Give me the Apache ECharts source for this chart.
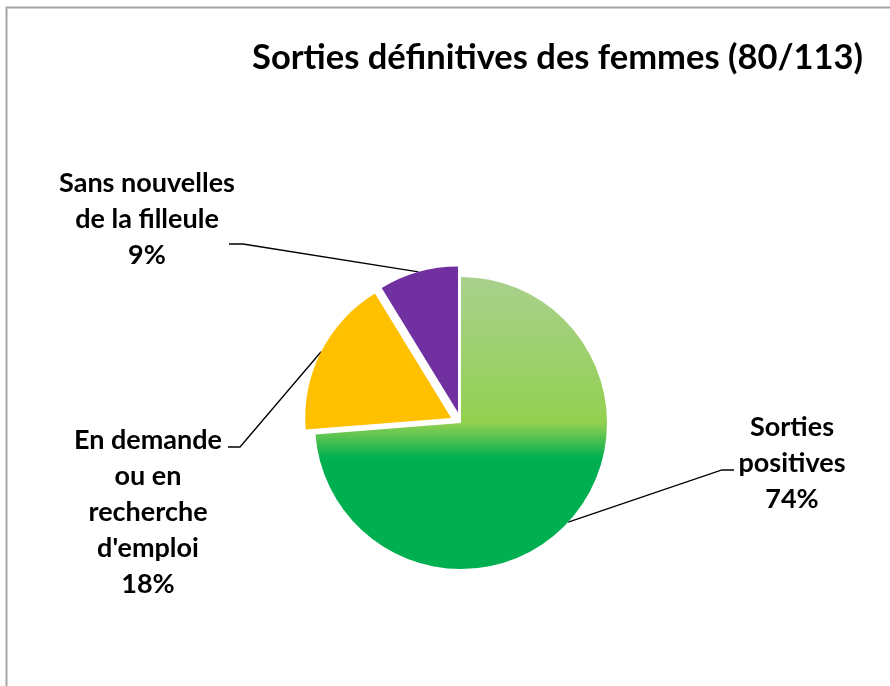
<!DOCTYPE html>
<html>
<head>
<meta charset="utf-8">
<script src="https://cdn.jsdelivr.net/npm/echarts@6/dist/echarts.min.js"></script>
<style>
  html, body { margin: 0; padding: 0; background: #fff; }
  #main { width: 890px; height: 686px; }
</style>
</head>
<body>
<div id="main"></div>
<script>
var categories = ['Sorties\npositives', 'En demande\nou en\nrecherche\nd\'emploi', 'Sans nouvelles\nde la filleule'];
var counts = [59, 14, 7];
var percentLabels = ['74%', '18%', '9%'];
var exploded = [false, true, true];

// label block centre + elbow/end of leader line (layout only)
var labelPos = [
    { x: 792, y: 463, elbow: [722, 470], end: [734, 470] },
    { x: 148, y: 512, elbow: [240, 447], end: [228, 447] },
    { x: 147, y: 219, elbow: [243, 244], end: [229, 244] }
];
var pieCenter = [461, 423];
var pieRadius = 146;
var explodeDist = 11;

var greenFill = new echarts.graphic.LinearGradient(0, 0, 0, 1, [
    { offset: 0, color: '#a9d18e' },
    { offset: 0.5, color: '#92d050' },
    { offset: 0.62, color: '#00b050' },
    { offset: 1, color: '#00b050' }
]);
var colors = [greenFill, '#ffc000', '#7030a0'];

// one pie series per slice, so an exploded slice can have its own centre
var total = counts.reduce(function (a, b) { return a + b; }, 0);
var series = [];
var acc = 0;
counts.forEach(function (v, k) {
    var mid = (acc + v / 2) / total * 2 * Math.PI;   // clockwise from 12 o'clock
    acc += v;
    var d = exploded[k] ? explodeDist : 0;
    var c = [pieCenter[0] + d * Math.sin(mid), pieCenter[1] - d * Math.cos(mid)];
    series.push({
        type: 'pie',
        center: c,
        radius: pieRadius,
        startAngle: 90,
        clockwise: true,
        silent: true,
        avoidLabelOverlap: false,
        label: {
            position: 'outside',
            fontFamily: 'Lato',
            fontWeight: 'bold',
            fontSize: 27,
            lineHeight: 36,
            color: '#000',
            align: 'center',
            formatter: function (p) {
                return p.name + '\n' + percentLabels[p.dataIndex];
            }
        },
        labelLine: {
            lineStyle: { color: '#000', width: 1.3 }
        },
        emphasis: { disabled: true },
        labelLayout: function (p) {
            var lp = labelPos[p.dataIndex];
            if (p.dataIndex !== k) return {};
            return {
                x: lp.x,
                y: lp.y,
                align: 'center',
                verticalAlign: 'middle',
                labelLinePoints: [p.labelLinePoints[0], lp.elbow, lp.end]
            };
        },
        data: categories.map(function (name, i) {
            var own = i === k;
            return {
                name: name,
                value: counts[i],
                itemStyle: { color: own ? colors[i] : 'rgba(0,0,0,0)' },
                label: { show: own },
                labelLine: { show: own }
            };
        })
    });
});

var myChart = echarts.init(document.getElementById('main'));
var option = {
    backgroundColor: '#fff',
    animation: false,
    title: {
        text: 'Sorties définitives des femmes (80/113)',
        right: 22,
        top: 35,
        textStyle: {
            fontFamily: 'Lato',
            fontWeight: 'bold',
            fontSize: 34.5,
            color: '#000'
        }
    },
    graphic: [
        {
            type: 'rect',
            shape: { x: 6.5, y: 7.5, width: 1000, height: 1000 },
            style: { fill: 'none', stroke: '#a6a6a6', lineWidth: 2 }
        }
    ],
    series: series
};
myChart.setOption(option);
</script>
</body>
</html>
